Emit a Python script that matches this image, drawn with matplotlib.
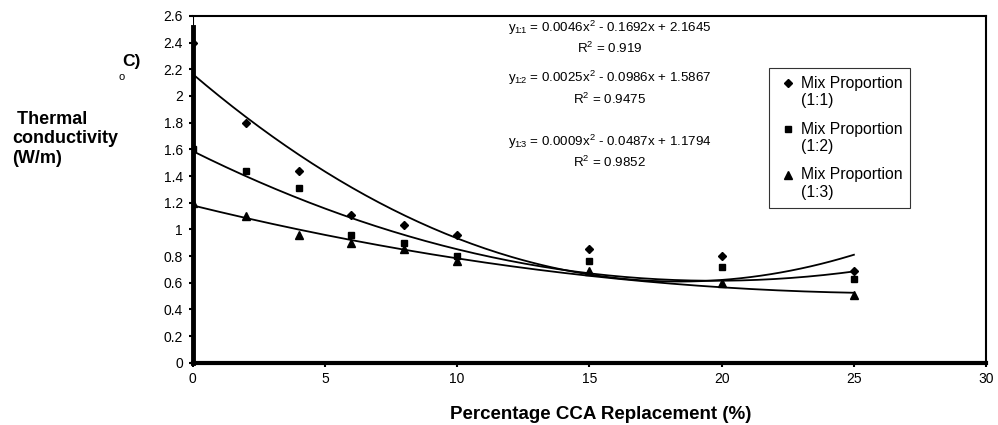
import numpy as np
import matplotlib
matplotlib.use('Agg')
import matplotlib.pyplot as plt
from matplotlib.legend_handler import HandlerLine2D

plt.rcParams['font.family'] = ['Liberation Sans', 'DejaVu Sans']
plt.rcParams['mathtext.fontset'] = 'custom'
plt.rcParams['mathtext.rm'] = 'Liberation Sans'
plt.rcParams['mathtext.it'] = 'Liberation Sans'

# percentage CCA replacement
cca = [0, 2, 4, 6, 8, 10, 15, 20, 25]
# thermal conductivity per mix proportion
mix_11 = [2.40, 1.80, 1.44, 1.11, 1.03, 0.96, 0.85, 0.80, 0.69]
mix_12 = [1.60, 1.44, 1.31, 0.96, 0.90, 0.80, 0.76, 0.72, 0.63]
mix_13 = [1.20, 1.10, 0.96, 0.90, 0.85, 0.76, 0.69, 0.60, 0.51]

# trendline coefficients (a, b, c) as printed on the chart
coef_11 = [0.0046, -0.1692, 2.1645]
coef_12 = [0.0025, -0.0986, 1.5867]
coef_13 = [0.0009, -0.0487, 1.1794]
r2 = ['0.919', '0.9475', '0.9852']
labels = ['Mix Proportion\n(1:1)', 'Mix Proportion\n(1:2)', 'Mix Proportion\n(1:3)']
subs = ['1', '2', '3']


class TopHandler(HandlerLine2D):
    # put the marker next to the first line of a two-line label
    def create_artists(self, legend, orig_handle, xdescent, ydescent, width, height, fontsize, trans):
        arts = super().create_artists(legend, orig_handle, xdescent, ydescent, width, height, fontsize, trans)
        for a in arts:
            a.set_ydata(np.asarray(a.get_ydata()) + 0.6 * fontsize)
        return arts


fig = plt.figure(figsize=(9.98, 4.25), dpi=100)
ax = fig.add_axes([0.1931, 0.1466, 0.795, 0.8158])

series = [(mix_11, coef_11, 'D', 4.5), (mix_12, coef_12, 's', 5), (mix_13, coef_13, '^', 5.5)]
xs = np.linspace(0, 25, 200)
for (vals, c, m, ms), lab in zip(series, labels):
    ax.plot(cca, vals, linestyle='none', marker=m, markersize=ms, color='black', label=lab)
    ax.plot(xs, np.polyval(c, xs), color='black', linewidth=1.3)

ax.set_xlim(0, 30)
ax.set_ylim(0, 2.6)
ax.set_xticks(range(0, 31, 5))
yt = np.arange(0, 2.61, 0.2)
ax.set_yticks(yt)
ax.set_yticklabels(['0' if v == 0 else ('%.1f' % v).rstrip('0').rstrip('.') for v in yt])
ax.tick_params(direction='out', length=3, width=1.5, labelsize=10, pad=4)
ax.spines['left'].set_linewidth(3.5)
ax.spines['left'].set_bounds(0, 2.52)
ax.axvline(0, ymin=2.5 / 2.6, ymax=1, color='black', linewidth=1.5)
ax.spines['bottom'].set_linewidth(3)
ax.spines['top'].set_linewidth(1.5)
ax.spines['right'].set_linewidth(1.5)

ax.set_xlabel('Percentage CCA Replacement (%)', fontsize=13.5, fontweight='bold')
ax.xaxis.set_label_coords(0.5147, -0.125)

fig.text(0.012, 0.673, ' Thermal\nconductivity\n(W/m)', fontsize=13, fontweight='bold',
         ha='left', va='center', linespacing=1.17)
fig.text(0.122, 0.856, 'C)', fontsize=12.5, fontweight='bold', ha='left', va='center')
fig.text(0.1215, 0.819, 'o', fontsize=8, ha='center', va='center')

eq_y = [(0.934, 0.886), (0.817, 0.765), (0.666, 0.618)]
for c, s, r, (y1, y2) in zip([coef_11, coef_12, coef_13], subs, r2, eq_y):
    eq = r'y$_{1\!\!:\!\!%s}$ = %.4fx$^2$ - %.4fx + %.4f' % (s, c[0], -c[1], c[2])
    fig.text(0.611, y1, eq, fontsize=9.6, ha='center', va='center')
    fig.text(0.611, y2, r'R$^2$ = %s' % r, fontsize=9.6, ha='center', va='center')

leg = ax.legend(loc='upper left', bbox_to_anchor=(0.7265, 0.85), frameon=True,
                fancybox=False, edgecolor='black', fontsize=11.3, handletextpad=0.1,
                handlelength=1.4, borderpad=0.5, labelspacing=0.85, borderaxespad=0,
                handler_map={matplotlib.lines.Line2D: TopHandler()})
leg.get_frame().set_linewidth(0.8)

fig.savefig('out.png', dpi=100)
